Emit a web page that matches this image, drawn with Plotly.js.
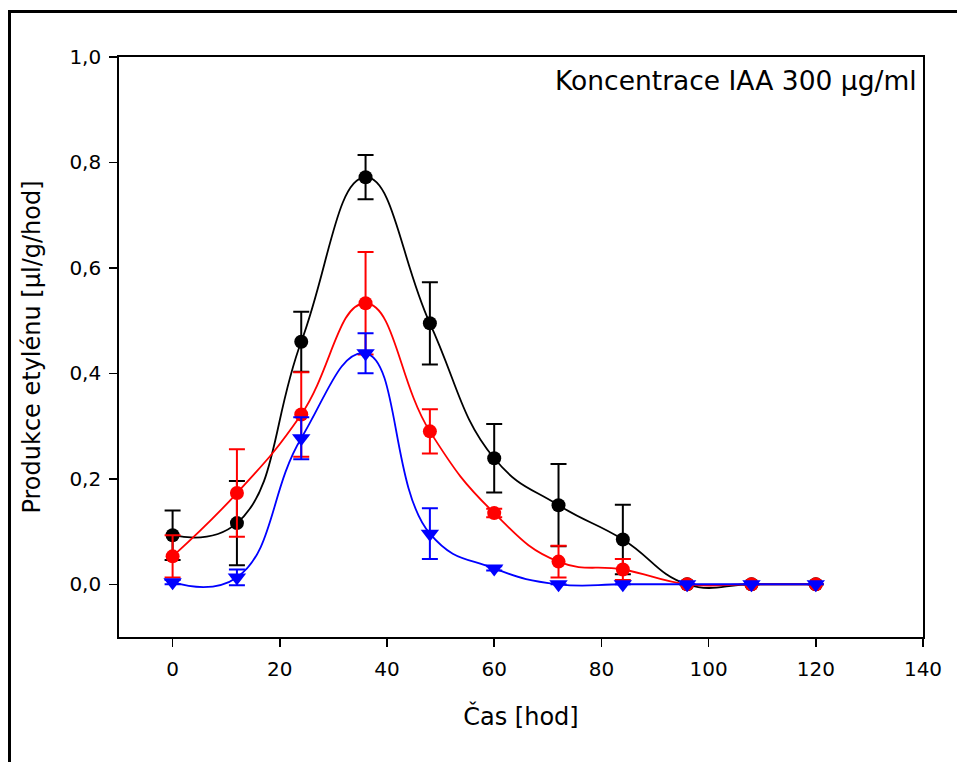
<!DOCTYPE html>
<html>
<head>
<meta charset="utf-8">
<script src="https://cdn.plot.ly/plotly-3.0.1.min.js"></script>
<style>
  html, body { margin: 0; padding: 0; background: #fff; }
  #chart { width: 957px; height: 762px; }
  #frame { position: absolute; left: 8px; top: 10px; width: 960px; height: 800px;
           border-left: 3px solid #000; border-top: 3px solid #000; pointer-events: none; }
</style>
</head>
<body>
<div id="chart"></div>
<div id="frame"></div>
<script>
const hours = [0, 12, 24, 36, 48, 60, 72, 84, 96, 108, 120];

const blackVals = [0.093, 0.116, 0.460, 0.772, 0.495, 0.239, 0.150, 0.085, 0.0, 0.0, 0.0];
const blackErr  = [0.047, 0.080, 0.057, 0.042, 0.078, 0.065, 0.078, 0.066, 0.0, 0.0, 0.0];

const redVals = [0.053, 0.173, 0.322, 0.533, 0.290, 0.135, 0.043, 0.028, 0.0, 0.0, 0.0];
const redErr  = [0.040, 0.083, 0.080, 0.097, 0.042, 0.008, 0.030, 0.020, 0.0, 0.0, 0.0];

const blueVals = [0.004, 0.013, 0.277, 0.438, 0.096, 0.030, 0.0, 0.0, 0.0, 0.0, 0.0];
const blueErr  = [0.004, 0.015, 0.040, 0.038, 0.048, 0.004, 0.0, 0.0, 0.0, 0.0, 0.0];

const xTicks = [0, 20, 40, 60, 80, 100, 120, 140];
const yTicks = [0, 0.2, 0.4, 0.6, 0.8, 1.0];
const yTickText = ['0,0', '0,2', '0,4', '0,6', '0,8', '1,0'];

const FONT = 'DejaVu Sans, sans-serif';

function series(y, err, color, symbol, size) {
  return {
    x: hours, y: y, type: 'scatter', mode: 'lines+markers',
    line: { color: color, width: 1.8, shape: 'spline', smoothing: 1.3 },
    marker: { color: color, size: size, symbol: symbol, line: { width: 0 } },
    error_y: { type: 'data', array: err, visible: true, color: color, thickness: 2, width: 8 },
    cliponaxis: false, hoverinfo: 'skip', showlegend: false
  };
}

const data = [
  series(blackVals, blackErr, '#000000', 'circle', 14),
  series(redVals, redErr, '#ff0000', 'circle', 14),
  series(blueVals, blueErr, '#0000ff', 'triangle-down', 16)
];

const layout = {
  width: 957, height: 762,
  margin: { l: 119, r: 34, t: 57, b: 125 },
  paper_bgcolor: '#ffffff', plot_bgcolor: '#ffffff',
  font: { family: FONT, color: '#000', size: 20 },
  xaxis: {
    range: [-10, 140], tickvals: xTicks, ticks: 'outside', ticklen: 8, tickwidth: 1.5,
    tickcolor: '#000', showgrid: false, zeroline: false, showline: true, linecolor: '#000',
    linewidth: 1.8, mirror: true, tickfont: { family: FONT, size: 20 },
    ticklabelstandoff: 5,
    title: { text: 'Čas [hod]', font: { family: FONT, size: 24 }, standoff: 28 },
    automargin: false
  },
  yaxis: {
    range: [-0.1, 1.0], tickvals: yTicks, ticktext: yTickText, ticks: 'outside', ticklen: 8,
    tickwidth: 1.5, tickcolor: '#000', showgrid: false, zeroline: false, showline: true,
    linecolor: '#000', linewidth: 1.8, mirror: true, tickfont: { family: FONT, size: 20 },
    ticklabelstandoff: 4,
    title: { text: 'Produkce etylénu [µl/g/hod]', font: { family: FONT, size: 24 }, standoff: 22 },
    automargin: false
  },
  annotations: [{
    xref: 'paper', yref: 'paper', x: 0.995, y: 0.99, xanchor: 'right', yanchor: 'top',
    text: 'Koncentrace IAA 300 µg/ml', showarrow: false,
    font: { family: FONT, size: 26.5, color: '#000' }
  }]
};

Plotly.newPlot('chart', data, layout, { displayModeBar: false, staticPlot: true });
</script>
</body>
</html>
